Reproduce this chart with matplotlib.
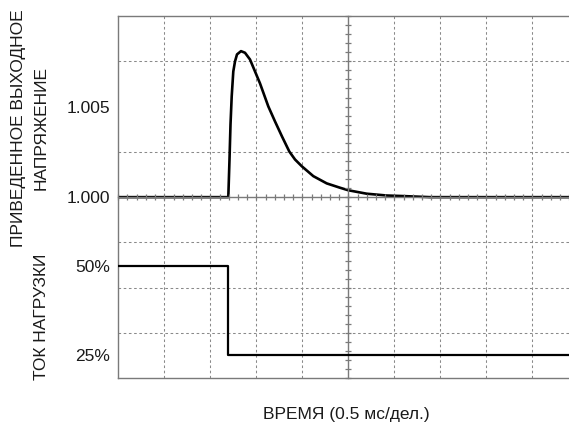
import matplotlib.pyplot as plt
import numpy as np

plt.rcParams['font.family'] = ['Liberation Sans', 'DejaVu Sans']

# время, мс (0.5 мс/дел.)
time_ms = [0.0, 1.1957, 1.2087, 1.2196, 1.2326, 1.2500, 1.2685, 1.2902, 1.3337,
           1.3772, 1.4315, 1.4859, 1.5402, 1.6304, 1.7033, 1.7793, 1.8587,
           1.9207, 1.9935, 2.1196, 2.2652, 2.4098, 2.5000, 2.7000, 2.9174,
           3.0946, 3.3880, 5.0]
# приведенное выходное напряжение
v_out = [1.0, 1.0, 1.00208, 1.00401, 1.00556, 1.00694, 1.00749, 1.00788, 1.00806,
         1.00797, 1.00760, 1.00694, 1.00628, 1.00501, 1.00418, 1.00335, 1.00252,
         1.00208, 1.00171, 1.00116, 1.00076, 1.00052, 1.00038, 1.00019, 1.00009,
         1.00006, 1.0, 1.0]

# ток нагрузки, %
load_t = [0.0, 1.195, 1.195, 5.0]
load_i = [50, 50, 25, 25]

v_ticks = [1.000, 1.005]
i_ticks = [25, 50]

W, H = 569, 423
fig = plt.figure(figsize=(W / 100, H / 100), dpi=100)
left, right, top, bottom = 118.3, 578.3, 16.0, 378.3
pos = [left / W, 1 - bottom / H, (right - left) / W, (bottom - top) / H]

grey = '#7a7a7a'
ax = fig.add_axes(pos)
ax.set_xlim(0, 5)
ax.set_ylim(0.990, 1.010)
ax.spines['right'].set_visible(False)
for s in ['left', 'top', 'bottom']:
    ax.spines[s].set_color(grey)
    ax.spines[s].set_linewidth(1.0)

# сетка
xg = np.arange(0.5, 5.0, 0.5)
yg = np.arange(0.9925, 1.010, 0.0025)
ax.set_xticks([])
ax.set_xticks([x for x in xg if abs(x - 2.5) > 1e-6], minor=True)
ax.set_yticks(v_ticks)
ax.set_yticklabels(['%.3f' % v for v in v_ticks])
ax.set_yticks([y for y in yg if abs(y - 1.0) > 1e-6], minor=True)
ax.grid(which='minor', color='#8a8a8a', linestyle=(0, (2.5, 2.5)), linewidth=0.75)
ax.tick_params(which='both', length=0)
ax.tick_params(axis='y', which='major', pad=6, labelsize=12.5, labelcolor='#1a1a1a')

# центральные оси с делениями
cx = fig.add_axes(pos, facecolor='none')
cx.set_xlim(0, 5)
cx.set_ylim(-4, 4)
cx.spines['right'].set_visible(False)
cx.spines['top'].set_visible(False)
cx.spines['left'].set_position(('data', 2.5))
cx.spines['bottom'].set_position(('data', 0))
for s in ['left', 'bottom']:
    cx.spines[s].set_color(grey)
    cx.spines[s].set_linewidth(1.0)
cx.set_xticks(np.arange(0, 5.01, 0.1))
cx.set_yticks(np.arange(-4, 4.01, 0.2))
cx.tick_params(direction='inout', length=4, width=0.9, color=grey,
               labelleft=False, labelbottom=False)

ax.plot(time_ms, v_out, color='black', linewidth=1.9, zorder=5,
        solid_joinstyle='round')

ax2 = ax.twinx()
ax2.set_ylim(18.58, 119.67)
ax2.yaxis.set_ticks_position('left')
ax2.set_yticks(i_ticks)
ax2.set_yticklabels(['%d%%' % i for i in i_ticks])
ax2.tick_params(length=0, pad=6, labelsize=12.5, labelcolor='#1a1a1a')
for s in ax2.spines.values():
    s.set_visible(False)
ax2.plot(load_t, load_i, color='black', linewidth=1.6)

fig.text(18.5 / W, 1 - 128 / H, 'ПРИВЕДЕННОЕ ВЫХОДНОЕ', rotation=90,
         ha='center', va='center', fontsize=12.5, color='#1a1a1a')
fig.text(41.5 / W, 1 - 128 / H, 'НАПРЯЖЕНИЕ', rotation=90,
         ha='center', va='center', fontsize=12.5, color='#1a1a1a')
fig.text(41.5 / W, 1 - 317 / H, 'ТОК НАГРУЗКИ', rotation=90,
         ha='center', va='center', fontsize=12.5, color='#1a1a1a')
fig.text(346.7 / W, 1 - 414 / H, 'ВРЕМЯ (0.5 мс/дел.)',
         ha='center', va='center', fontsize=12.5, color='#1a1a1a')

fig.savefig('out.png', dpi=100)
